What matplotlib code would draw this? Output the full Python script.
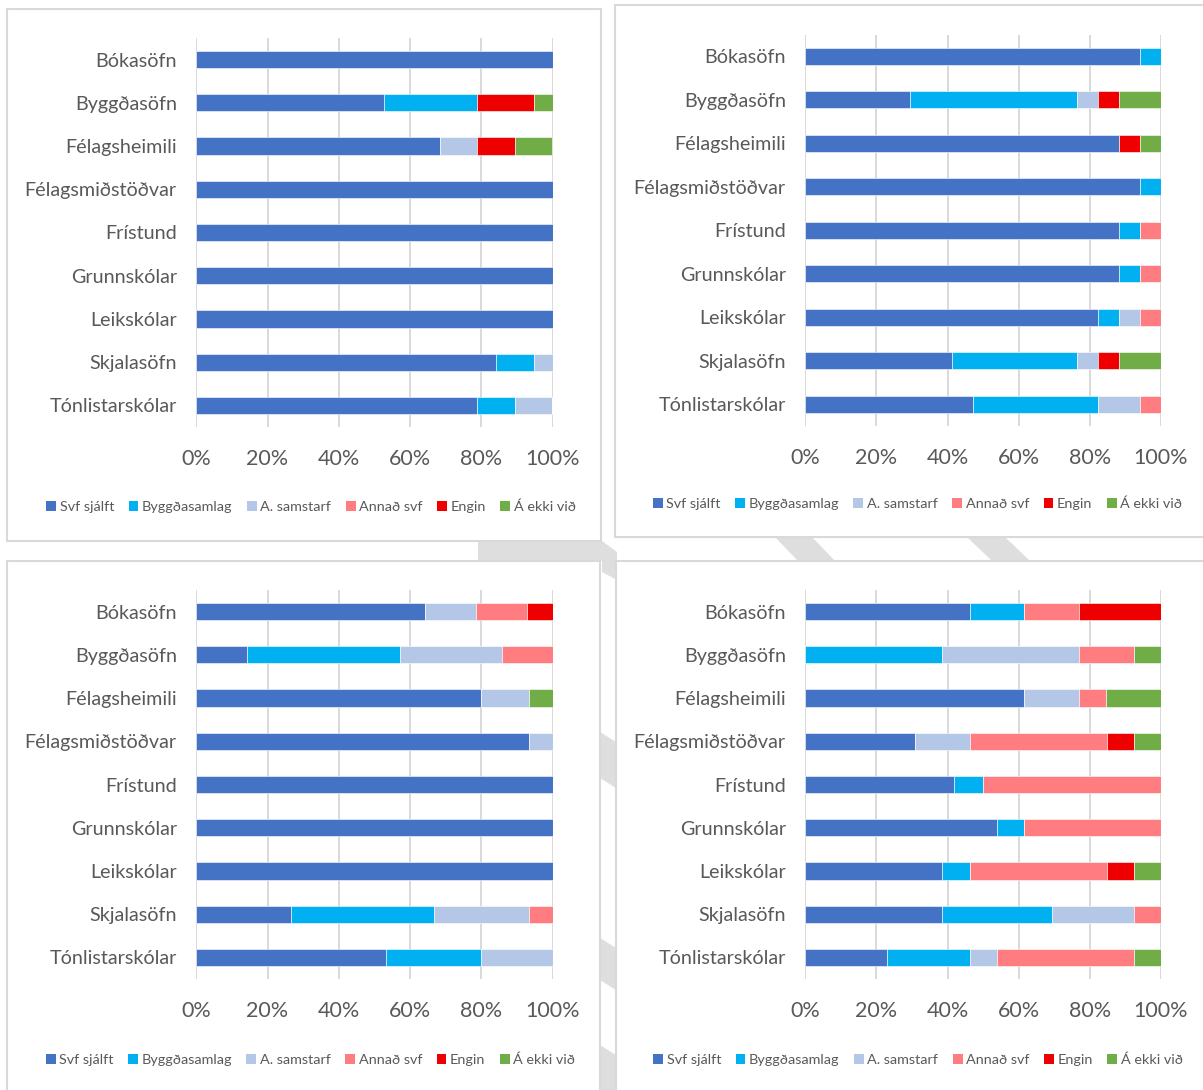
import matplotlib.pyplot as plt
from matplotlib.patches import Rectangle, Polygon, Patch
import numpy as np

plt.rcParams['font.family'] = ['Lato', 'DejaVu Sans']

categories = ['Bókasöfn', 'Byggðasöfn', 'Félagsheimili', 'Félagsmiðstöðvar',
              'Frístund', 'Grunnskólar', 'Leikskólar', 'Skjalasöfn',
              'Tónlistarskólar']
series = ['Svf sjálft', 'Byggðasamlag', 'A. samstarf', 'Annað svf', 'Engin',
          'Á ekki við']
colors = ['#4472C4', '#00B0F0', '#B4C7E7', '#FF7C80', '#EE0000', '#70AD47']
ticks = [0, 20, 40, 60, 80, 100]

# % per category, columns in the order of `series`
top_left = [
    [100, 0, 0, 0, 0, 0],
    [52.6, 26.3, 0, 0, 15.8, 5.3],
    [68.4, 0, 10.5, 0, 10.5, 10.5],
    [100, 0, 0, 0, 0, 0],
    [100, 0, 0, 0, 0, 0],
    [100, 0, 0, 0, 0, 0],
    [100, 0, 0, 0, 0, 0],
    [84.2, 10.5, 5.3, 0, 0, 0],
    [78.9, 10.5, 10.5, 0, 0, 0],
]
top_right = [
    [94.1, 5.9, 0, 0, 0, 0],
    [29.4, 47.1, 5.9, 0, 5.9, 11.8],
    [88.2, 0, 0, 0, 5.9, 5.9],
    [94.1, 5.9, 0, 0, 0, 0],
    [88.2, 5.9, 0, 5.9, 0, 0],
    [88.2, 5.9, 0, 5.9, 0, 0],
    [82.4, 5.9, 5.9, 5.9, 0, 0],
    [41.2, 35.3, 5.9, 0, 5.9, 11.8],
    [47.1, 35.3, 11.8, 5.9, 0, 0],
]
bottom_left = [
    [64.3, 0, 14.3, 14.3, 7.1, 0],
    [14.3, 42.9, 28.6, 14.3, 0, 0],
    [80.0, 0, 13.3, 0, 0, 6.7],
    [93.3, 0, 6.7, 0, 0, 0],
    [100, 0, 0, 0, 0, 0],
    [100, 0, 0, 0, 0, 0],
    [100, 0, 0, 0, 0, 0],
    [26.7, 40.0, 26.7, 6.7, 0, 0],
    [53.3, 26.7, 20.0, 0, 0, 0],
]
bottom_right = [
    [46.2, 15.4, 0, 15.4, 23.0, 0],
    [0, 38.5, 38.5, 15.4, 0, 7.7],
    [61.5, 0, 15.4, 7.7, 0, 15.4],
    [30.8, 0, 15.4, 38.5, 7.7, 7.7],
    [41.7, 8.3, 0, 50.0, 0, 0],
    [53.8, 7.7, 0, 38.5, 0, 0],
    [38.5, 7.7, 0, 38.5, 7.7, 7.7],
    [38.5, 30.8, 23.1, 7.7, 0, 0],
    [23.1, 23.1, 7.7, 38.5, 0, 7.7],
]

W, H = 1203, 1090
fig = plt.figure(figsize=(W / 100, H / 100), dpi=100)
txt = '#595959'


def fx(x):
    return x / W


def fy(y):
    return 1 - y / H


# faint watermark pieces showing between the panels
wm = [
    [(478, 541), (602, 541), (617, 552), (617, 580), (602, 572),
     (602, 561), (478, 561)],
    [(775, 537), (812, 537), (835, 561), (798, 561)],
    [(967, 537), (1005, 537), (1030, 561), (992, 561)],
    [(600, 732), (616, 742), (616, 788), (600, 778)],
    [(600, 938), (616, 948), (616, 990), (600, 980)],
    [(600, 1045), (616, 1055), (616, 1095), (600, 1095)],
]
for poly in wm:
    fig.patches.append(Polygon([(fx(a), fy(b)) for a, b in poly],
                               closed=True, transform=fig.transFigure,
                               fc='#DEDEDE', ec='none', zorder=0))

# panel boxes (x0, y0, x1, y1) and plot areas in px
panels = [
    (top_left, (7, 9, 601, 541), (196.3, 38, 552.6, 427), 507),
    (top_right, (615, 5, 1206, 537), (805.2, 34.5, 1161, 426), 504),
    (bottom_left, (7, 561, 600, 1093), (196.3, 590, 552.6, 979), 1060),
    (bottom_right, (616, 561, 1206, 1093), (805.2, 590, 1161, 979), 1060),
]

for vals, box, area, leg_y in panels:
    x0, y0, x1, y1 = box
    fig.patches.append(Rectangle((fx(x0), fy(y1)), fx(x1 - x0), (y1 - y0) / H,
                                 transform=fig.transFigure, fc='white',
                                 ec='#D9D9D9', lw=1.5, zorder=1))
    a0, b0, a1, b1 = area
    ax = fig.add_axes([fx(a0), fy(b1), fx(a1 - a0), (b1 - b0) / H])
    ax.set_zorder(2)
    ax.patch.set_alpha(0)
    vals = np.array(vals)
    y = np.arange(len(categories))
    left = np.zeros(len(categories))
    for j, name in enumerate(series):
        ax.barh(y, vals[:, j], left=left, height=0.4, color=colors[j],
                edgecolor='white', linewidth=0.4, label=name, zorder=3)
        left += vals[:, j]
    ax.set_xlim(0, 100)
    ax.set_ylim(len(categories) - 0.5, -0.5)
    ax.set_xticks(ticks)
    ax.set_xticklabels(['{}%'.format(t) for t in ticks])
    ax.set_yticks(y)
    ax.set_yticklabels(categories)
    ax.tick_params(axis='y', length=0, pad=14, labelsize=14.2, labelcolor=txt)
    ax.tick_params(axis='x', length=0, pad=16, labelsize=15.5, labelcolor=txt)
    ax.grid(axis='x', color='#D9D9D9', lw=1.4)
    ax.set_axisbelow(True)
    for s in ax.spines.values():
        s.set_visible(False)

    handles = [Patch(fc=c, ec='none') for c in colors]
    ax.legend(handles, series, loc='center', ncol=6, frameon=False,
              bbox_to_anchor=(fx((x0 + x1) / 2 + 7), fy(leg_y)),
              bbox_transform=fig.transFigure, fontsize=10.4,
              labelcolor=txt, handlelength=0.68, handleheight=0.68,
              handletextpad=0.25, columnspacing=1.0, borderpad=0)

fig.savefig('out.png', dpi=100)
